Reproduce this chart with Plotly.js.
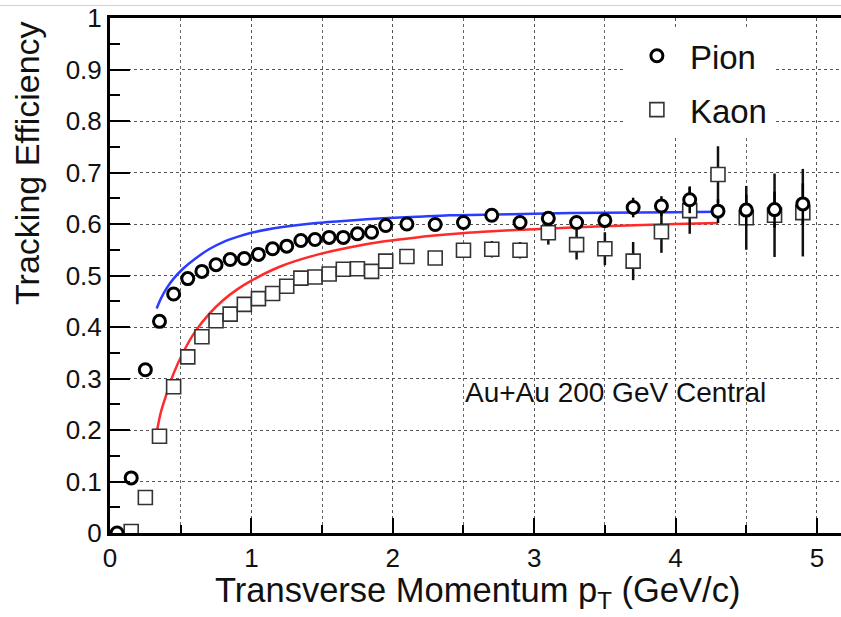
<!DOCTYPE html>
<html>
<head>
<meta charset="utf-8">
<script src="https://cdn.plot.ly/plotly-3.0.1.min.js"></script>
<style>html,body{margin:0;padding:0;background:#fff;}#chart{width:841px;height:617px;}</style>
</head>
<body>
<div id="chart"></div>
<script>
// Pion points
const pionPt = [0.05,0.15,0.25,0.35,0.45,0.55,0.65,0.75,0.85,0.95,1.05,1.15,1.25,1.35,1.45,1.55,1.65,1.75,1.85,1.95,2.1,2.3,2.5,2.7,2.9,3.1,3.3,3.5,3.7,3.9,4.1,4.3,4.5,4.7,4.9];
const pionEff = [0.0,0.107,0.317,0.411,0.464,0.494,0.508,0.521,0.531,0.533,0.541,0.552,0.557,0.568,0.570,0.574,0.574,0.581,0.584,0.597,0.600,0.599,0.603,0.617,0.603,0.611,0.603,0.607,0.632,0.635,0.647,0.625,0.627,0.628,0.639];
const pionErr = [0.003,0.003,0.003,0.003,0.003,0.003,0.003,0.003,0.003,0.003,0.003,0.003,0.003,0.003,0.003,0.003,0.003,0.003,0.003,0.003,0.006,0.006,0.007,0.008,0.009,0.010,0.012,0.015,0.019,0.019,0.026,0.023,0.03,0.035,0.04];
// Kaon points
const kaonPt = [0.15,0.25,0.35,0.45,0.55,0.65,0.75,0.85,0.95,1.05,1.15,1.25,1.35,1.45,1.55,1.65,1.75,1.85,1.95,2.1,2.3,2.5,2.7,2.9,3.1,3.3,3.5,3.7,3.9,4.1,4.3,4.5,4.7,4.9];
const kaonEff = [0.003,0.069,0.188,0.284,0.342,0.381,0.412,0.425,0.444,0.455,0.465,0.479,0.495,0.497,0.503,0.512,0.513,0.508,0.528,0.537,0.534,0.549,0.551,0.549,0.583,0.560,0.552,0.528,0.585,0.626,0.696,0.612,0.617,0.622];
const kaonErr = [0.003,0.003,0.003,0.003,0.003,0.003,0.003,0.003,0.003,0.003,0.003,0.003,0.003,0.003,0.004,0.004,0.004,0.004,0.005,0.006,0.008,0.010,0.016,0.016,0.023,0.029,0.032,0.037,0.041,0.045,0.055,0.062,0.081,0.085];
// Fit curves
const fitPionPt = [0.33,0.36,0.40,0.45,0.52,0.60,0.70,0.80,0.90,1.00,1.22,1.46,1.70,1.93,2.17,2.40,2.64,3.0,3.5,4.0,4.3];
const fitPionEff = [0.436,0.455,0.475,0.494,0.514,0.532,0.551,0.565,0.575,0.583,0.594,0.602,0.607,0.611,0.614,0.617,0.618,0.620,0.622,0.623,0.624];
const fitKaonPt = [0.33,0.36,0.40,0.45,0.52,0.60,0.70,0.80,0.90,1.00,1.20,1.46,1.70,1.93,2.17,2.40,2.64,3.0,3.44,4.0,4.3];
const fitKaonEff = [0.195,0.235,0.270,0.310,0.352,0.390,0.425,0.452,0.473,0.490,0.517,0.540,0.555,0.566,0.574,0.580,0.585,0.590,0.595,0.600,0.602];
const xTickVals = [0,1,2,3,4,5];
const yTickVals = [0,0.1,0.2,0.3,0.4,0.5,0.6,0.7,0.8,0.9,1];

const FONT = 'Liberation Sans, Arial, sans-serif';

const traces = [
  {x: fitPionPt, y: fitPionEff, mode:'lines', line:{color:'#2a3cff', width:2.5, shape:'spline', smoothing:0.8}, showlegend:false, hoverinfo:'skip'},
  {x: fitKaonPt, y: fitKaonEff, mode:'lines', line:{color:'#ff2a2a', width:2.5, shape:'spline', smoothing:0.8}, showlegend:false, hoverinfo:'skip'},
  {x: kaonPt, y: kaonEff, name:'Kaon', mode:'markers', legendrank:2, legendgroup:'k',
   marker:{symbol:'square', size:14, color:'#fff', line:{width:1.6, color:'#333'}},
   error_y:{type:'data', array:kaonErr, visible:true, thickness:2.5, width:0, color:'#111'}},
  {x: pionPt, y: pionEff, name:'Pion', mode:'markers', legendrank:1, legendgroup:'p',
   marker:{symbol:'circle', size:12, color:'#fff', line:{width:3, color:'#000'}},
   error_y:{type:'data', array:pionErr, visible:true, thickness:2.5, width:0, color:'#000'}}
];

const layout = {
  width:841, height:617,
  margin:{l:110, r:0, t:18, b:84},
  paper_bgcolor:'#fff', plot_bgcolor:'#fff',
  font:{family:FONT, color:'#000'},
  showlegend:true,
  legend:{x:0.703, y:0.981, xanchor:'left', yanchor:'top', bgcolor:'#fff', borderwidth:0,
          traceorder:'grouped', tracegroupgap:8,
          font:{size:33, family:FONT, color:'#111'}, itemwidth:56, itemsizing:'trace'},
  xaxis:{range:[0,5.17], tickvals:xTickVals, ticktext:xTickVals.map(String),
         ticks:'inside', ticklen:15, tickwidth:2, tickcolor:'#000',
         showline:true, linewidth:3, linecolor:'#000', mirror:true,
         showgrid:true, gridcolor:'#555', gridwidth:1, griddash:'dot', zeroline:false,
         tickfont:{size:26, family:FONT, color:'#111'},
         minor:{dtick:0.5, ticks:'inside', ticklen:8, tickwidth:2, tickcolor:'#000', showgrid:true, gridcolor:'#666', griddash:'dot', gridwidth:1}},
  yaxis:{range:[0,1], tickvals:yTickVals, ticktext:yTickVals.map(String),
         ticks:'inside', ticklen:20, tickwidth:2, tickcolor:'#000',
         showline:true, linewidth:3, linecolor:'#000',
         showgrid:true, gridcolor:'#555', gridwidth:1, griddash:'dot', zeroline:false,
         tickfont:{size:26, family:FONT, color:'#111'},
         minor:{dtick:0.05, ticks:'inside', ticklen:10, tickwidth:2, tickcolor:'#000', showgrid:false}},
  shapes:[
    {type:'line', xref:'paper', yref:'paper', x0:-0.16, x1:1, y0:1.0243, y1:1.0243, line:{color:'#d0d0d0', width:1}}
  ],
  annotations:[
    {text:'Tracking Efficiency', xref:'paper', yref:'paper', x:-0.113, y:0.7175, textangle:-90,
     showarrow:false, xanchor:'center', yanchor:'middle', font:{size:34, family:FONT, color:'#111'}},
    {text:'Transverse Momentum p<sub>T</sub> (GeV/c)', xref:'paper', yref:'paper', x:0.503, y:-0.115,
     showarrow:false, xanchor:'center', yanchor:'middle', font:{size:34.5, family:FONT, color:'#111'}},
    {text:'Au+Au 200 GeV Central', xref:'x', yref:'y', x:2.5, y:0.273,
     showarrow:false, xanchor:'left', yanchor:'middle', font:{size:28, family:FONT, color:'#111'}}
  ]
};

Plotly.newPlot('chart', traces, layout, {displayModeBar:false, staticPlot:true});
</script>
</body>
</html>
